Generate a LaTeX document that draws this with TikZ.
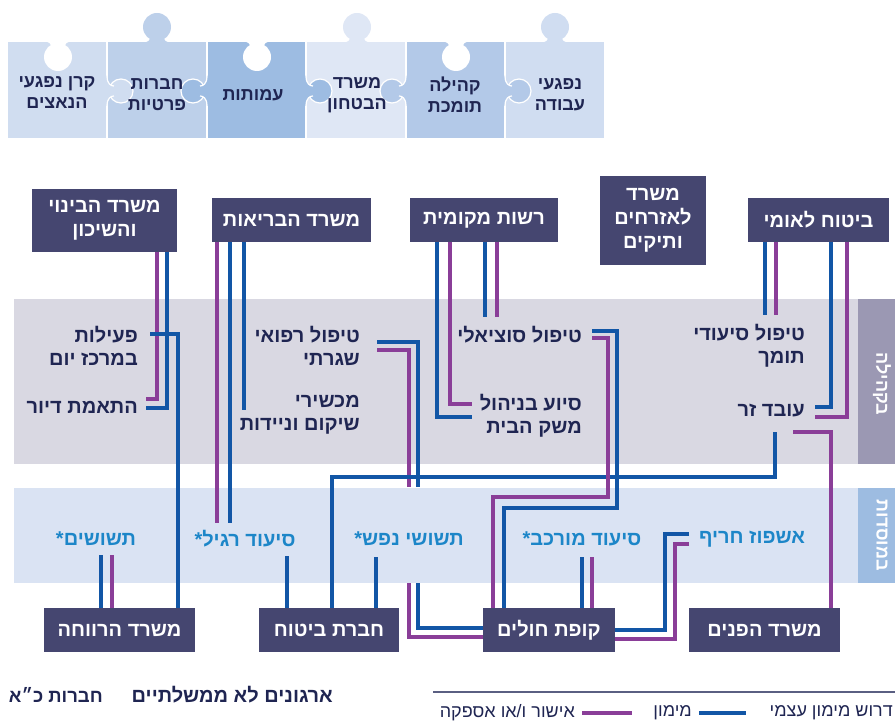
\documentclass[tikz,border=0pt]{standalone}
\usepackage{fontspec}
\newfontfamily\hebfont[Script=Hebrew]{Liberation Sans}
\TeXXeTstate=1
\newcommand\rtl[1]{\beginR#1\endR}
\definecolor{boxfill}{HTML}{454670}
\definecolor{navytxt}{HTML}{1F2552}
\definecolor{insttxt}{HTML}{1C86C8}
\definecolor{commband}{HTML}{D9D8E2}
\definecolor{commside}{HTML}{9B98B3}
\definecolor{instband}{HTML}{DAE3F3}
\definecolor{instside}{HTML}{9DBCE1}
\definecolor{fundblue}{HTML}{1256A6}
\definecolor{apprpurple}{HTML}{8A3E98}
\definecolor{legline}{HTML}{5A5F82}
\definecolor{pzA}{HTML}{D0DDF0}
\definecolor{pzB}{HTML}{BDD0EA}
\definecolor{pzC}{HTML}{9DBCE2}
\definecolor{pzD}{HTML}{DFE7F5}
\definecolor{pzE}{HTML}{B3C9E8}
\definecolor{pzF}{HTML}{D0DDF1}
\newcommand\pzside[3]{%
  \filldraw[fill=#1, draw=white, line width=1.2pt] ({#2+14*#3},91) circle[radius=12pt];
  \fill[#1] ({#2-0.8*#3},76) -- (#2,76) .. controls (#2,84) and ({#2+4*#3},86) .. ({#2+7*#3},86) -- ({#2+7*#3},96) .. controls ({#2+4*#3},96) and (#2,98) .. (#2,106) -- ({#2-0.8*#3},106) -- cycle;
  \draw[white, line width=1.2pt] (#2,76) .. controls (#2,84) and ({#2+4*#3},86) .. ({#2+7*#3},86);
  \draw[white, line width=1.2pt] ({#2+7*#3},96) .. controls ({#2+4*#3},96) and (#2,98) .. (#2,106);
}
\newcommand\pztop[2]{%
  \fill[#1] (#2,27) circle[radius=14pt];
  \fill[#1] ({#2-15},42.5) .. controls ({#2-8},42.5) and ({#2-7},40) .. ({#2-7},37) -- ({#2+7},37) .. controls ({#2+7},40) and ({#2+8},42.5) .. ({#2+15},42.5) -- cycle;
}
\newcommand\pzhole[1]{%
  \fill[white] (#1,57) circle[radius=14pt];
  \fill[white] ({#1-15},41.5) .. controls ({#1-8},41.5) and ({#1-7},44) .. ({#1-7},47) -- ({#1+7},47) .. controls ({#1+7},44) and ({#1+8},41.5) .. ({#1+15},41.5) -- cycle;
}
\tikzset{
  govbox/.style={fill=boxfill, text=white, font=\hebfont\bfseries\fontsize{20}{24}\selectfont, align=center, inner sep=0pt},
  commsvc/.style={text=navytxt, font=\hebfont\bfseries\fontsize{20}{23}\selectfont, align=right, inner sep=0pt, anchor=east},
  instsvc/.style={text=insttxt, font=\hebfont\bfseries\fontsize{20}{23}\selectfont, inner sep=0pt},
  pztxt/.style={text=navytxt, font=\hebfont\bfseries\fontsize{18}{21}\selectfont, align=center, inner sep=0pt},
  sidetxt/.style={rotate=-90, text=white, font=\hebfont\bfseries\fontsize{18}{22}\selectfont, inner sep=0pt},
  legtxt/.style={text=navytxt, font=\hebfont\fontsize{18}{20}\selectfont, inner sep=0pt},
  boldleg/.style={text=navytxt, font=\hebfont\bfseries\fontsize{20}{22}\selectfont, inner sep=0pt, anchor=east},
  fund/.style={draw=fundblue, line width=4pt},
  appr/.style={draw=apprpurple, line width=4pt},
}
\begin{document}
\begin{tikzpicture}[x=1pt,y=-1pt]
\useasboundingbox (0,0) rectangle (895,722);
\clip (0,0) rectangle (895,722);
% ---------- puzzle ----------
\fill[pzA] (8,42) rectangle (107,138);
\fill[pzB] (107,42) rectangle (207,138);
\fill[pzC] (207,42) rectangle (306,138);
\fill[pzD] (306,42) rectangle (406,138);
\fill[pzE] (406,42) rectangle (505,138);
\fill[pzF] (505,42) rectangle (604,138);
\foreach \bx in {107,207,306,406,505} \draw[white, line width=1.2pt] (\bx,42) -- (\bx,138);
\pztop{pzB}{157}
\pztop{pzD}{357}
\pztop{pzF}{555}
\pzside{pzA}{107}{1}
\pzside{pzC}{207}{-1}
\pzside{pzC}{306}{1}
\pzside{pzE}{406}{-1}
\pzside{pzE}{505}{1}
\pzhole{58}
\pzhole{257}
\pzhole{456}
\node[pztxt] (pz1) at (57,93) {\rtl{קרן נפגעי}\\\rtl{הנאצים}};
\node[pztxt] (pz2) at (157,95) {\rtl{חברות}\\\rtl{פרטיות}};
\node[pztxt] (pz3) at (253,95) {\rtl{עמותות}};
\node[pztxt] (pz4) at (357,95) {\rtl{משרד}\\\rtl{הבטחון}};
\node[pztxt] (pz5) at (455,95) {\rtl{קהילה}\\\rtl{תומכת}};
\node[pztxt] (pz6) at (560,95) {\rtl{נפגעי}\\\rtl{עבודה}};
% ---------- bands ----------
\fill[commband] (14,299) rectangle (858,464);
\fill[commside] (858,299) rectangle (895,464);
\fill[instband] (14,488) rectangle (858,583);
\fill[instside] (858,488) rectangle (895,583);
\node[sidetxt] (kehila) at (882,384) {\rtl{בקהילה}};
\node[sidetxt] (mosadot) at (882,535) {\rtl{במוסדות}};
% ---------- boxes ----------
\node[govbox, minimum width=145pt, minimum height=63pt] (binui) at (104.5,220.5) {\rtl{משרד הבינוי}\\\rtl{והשיכון}};
\node[govbox, minimum width=159pt, minimum height=44pt] (health) at (291.5,220) {\rtl{משרד הבריאות}};
\node[govbox, minimum width=148pt, minimum height=44pt] (local) at (484,220) {\rtl{רשות מקומית}};
\node[govbox, minimum width=106pt, minimum height=89pt] (vatikim) at (653,220.5) {\rtl{משרד}\\\rtl{לאזרחים}\\\rtl{ותיקים}};
\node[govbox, minimum width=141pt, minimum height=44pt] (bituach) at (818.5,220) {\rtl{ביטוח לאומי}};
\node[govbox, minimum width=151pt, minimum height=44pt] (rev) at (119.5,630) {\rtl{משרד הרווחה}};
\node[govbox, minimum width=140pt, minimum height=44pt] (bit) at (329,630) {\rtl{חברת ביטוח}};
\node[govbox, minimum width=132pt, minimum height=44pt] (kupa) at (549,630) {\rtl{קופת חולים}};
\node[govbox, minimum width=151pt, minimum height=44pt] (pnim) at (764.5,630) {\rtl{משרד הפנים}};
% ---------- services ----------
\node[commsvc] (peilut) at (138,346) {\rtl{פעילות}\\\rtl{במרכז יום}};
\node[commsvc] (diur) at (138,407) {\rtl{התאמת דיור}};
\node[commsvc] (refui) at (360,346) {\rtl{טיפול רפואי}\\\rtl{שגרתי}};
\node[commsvc] (machshir) at (360,415) {\rtl{מכשירי}\\\rtl{שיקום וניידות}};
\node[commsvc] (sotzi) at (582,335) {\rtl{טיפול סוציאלי}};
\node[commsvc] (meshek) at (582,416) {\rtl{סיוע בניהול}\\\rtl{משק הבית}};
\node[commsvc] (siudi) at (805,346) {\rtl{טיפול סיעודי}\\\rtl{תומך}};
\node[commsvc] (zar) at (805,411) {\rtl{עובד זר}};
\node[instsvc] (tshushim) at (96,539) {\rtl{תשושים\kern0pt*}};
\node[instsvc] (ragil) at (245,539) {\rtl{סיעוד רגיל\kern0pt*}};
\node[instsvc] (nefesh) at (409,539) {\rtl{תשושי נפש\kern0pt*}};
\node[instsvc] (murkav) at (582,539) {\rtl{סיעוד מורכב\kern0pt*}};
\node[instsvc] (ashpuz) at (752,539) {\rtl{אשפוז חריף}};
% ---------- connectors ----------
% binui
\draw[appr] (157,0 |- binui.south) -- (157,399) -- (146,399);
\draw[fund] (167,0 |- binui.south) -- (167,408) -- (146,408);
\draw[fund] (150,334) -- (178,334) -- (178,0 |- rev.north);
% health
\draw[appr] (217,0 |- health.south) -- (217,523);
\draw[fund] (230,0 |- health.south) -- (230,523);
\draw[fund] (244,0 |- health.south) -- (244,410);
% local
\draw[fund] (437,0 |- local.south) -- (437,417) -- (472,417);
\draw[appr] (450,0 |- local.south) -- (450,404) -- (472,404);
\draw[fund] (485,0 |- local.south) -- (485,317);
\draw[appr] (497,0 |- local.south) -- (497,317);
% bituach leumi
\draw[fund] (765,0 |- bituach.south) -- (765,315);
\draw[appr] (776,0 |- bituach.south) -- (776,315);
\draw[fund] (831,0 |- bituach.south) -- (831,407) -- (815,407);
\draw[appr] (847,0 |- bituach.south) -- (847,417) -- (815,417);
% refui -> kupa
\draw[fund] (377,342) -- (418,342) -- (418,487);
\draw[appr] (377,350) -- (409,350) -- (409,487);
\draw[fund] (418,583) -- (418,628) -- (kupa.west |- 0,628);
\draw[appr] (409,583) -- (409,637) -- (kupa.west |- 0,637);
% oved zar
\draw[fund] (775,432) -- (775,477) -- (332,477) -- (332,0 |- bit.north);
\draw[appr] (793,432) -- (831,432) -- (831,0 |- pnim.north);
% sotziali -> kupa
\draw[fund] (592,331) -- (617,331) -- (617,508) -- (504,508) -- (504,0 |- kupa.north);
\draw[appr] (592,338) -- (608,338) -- (608,497) -- (493,497) -- (493,0 |- kupa.north);
% murkav -> kupa
\draw[fund] (582,557) -- (582,0 |- kupa.north);
\draw[appr] (592,557) -- (592,0 |- kupa.north);
% ashpuz -> kupa
\draw[fund] (689,534) -- (665,534) -- (665,630) -- (kupa.east |- 0,630);
\draw[appr] (689,544) -- (675,544) -- (675,639) -- (kupa.east |- 0,639);
% bituach company
\draw[fund] (376,557) -- (376,0 |- bit.north);
\draw[fund] (287,556) -- (287,0 |- bit.north);
% revacha
\draw[fund] (101,555) -- (101,0 |- rev.north);
\draw[appr] (112,555) -- (112,0 |- rev.north);
% ---------- legend ----------
\node[boldleg] (ngo) at (333,695) {\rtl{ארגונים לא ממשלתיים}};
\node[boldleg, font=\hebfont\bfseries\fontsize{18.5}{22}\selectfont] (hevrot) at (103,695) {\rtl{חברות כ״א}};
\draw[legline, line width=1.5pt] (433,692) -- (895,692);
\node[legtxt, anchor=east] (lgself) at (893,713) {\rtl{דרוש מימון עצמי}};
\node[legtxt, anchor=east] (lgfund) at (692,713) {\rtl{מימון}};
\draw[fund] ([xshift=7pt]lgfund.east) -- ++(47,0);
\node[legtxt, anchor=east] (lgappr) at (575,713) {\rtl{אישור ו/או אספקה}};
\draw[appr] ([xshift=7pt]lgappr.east) -- ++(50,0);
\end{tikzpicture}
\end{document}
